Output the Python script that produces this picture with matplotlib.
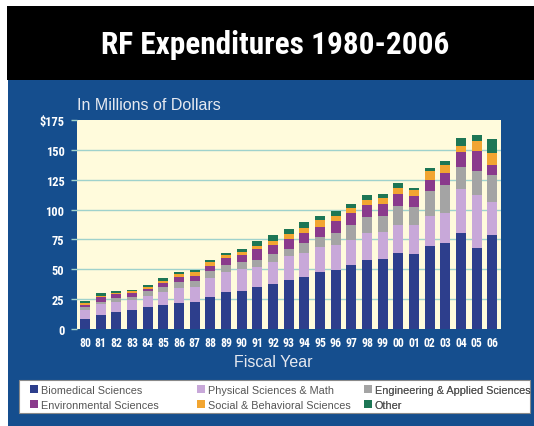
import matplotlib
matplotlib.use("Agg")
import matplotlib.pyplot as plt
from matplotlib import font_manager
from matplotlib.patches import Rectangle
import numpy as np

# Fiscal years (two-digit labels)
years = ["80", "81", "82", "83", "84", "85", "86", "87", "88", "89", "90", "91", "92",
         "93", "94", "95", "96", "97", "98", "99", "00", "01", "02", "03", "04", "05", "06"]

# Expenditures by field, in millions of dollars
biomedical = [8.4, 11.8, 14.0, 15.7, 18.3, 20.0, 21.6, 22.5, 27.2, 30.6, 31.5, 34.8, 37.9,
              41.3, 43.5, 47.5, 49.4, 53.9, 58.1, 58.4, 63.5, 63.2, 69.1, 71.6, 80.3, 67.7, 78.7]
physical = [7.6, 9.2, 9.0, 8.2, 9.7, 11.2, 12.4, 12.6, 15.5, 16.9, 18.5, 17.2, 18.6,
            19.7, 20.3, 21.3, 21.1, 20.8, 22.5, 22.8, 23.3, 23.9, 25.6, 25.9, 37.1, 44.9, 27.5]
engineering = [2.3, 2.0, 2.8, 3.3, 3.5, 3.6, 5.6, 5.3, 5.6, 6.2, 5.9, 6.1, 6.7,
               5.6, 7.8, 8.4, 10.1, 12.4, 13.5, 13.5, 16.3, 14.9, 20.7, 23.0, 18.0, 19.4, 22.7]
environmental = [1.9, 3.7, 3.4, 3.1, 1.9, 3.7, 3.9, 4.3, 4.8, 5.9, 6.1, 8.5, 7.0,
                 8.4, 9.0, 8.5, 10.1, 9.8, 9.8, 9.8, 10.1, 9.5, 9.6, 10.1, 12.6, 17.4, 8.7]
social = [1.4, 1.3, 0.8, 1.2, 1.4, 1.9, 2.5, 2.8, 3.1, 2.2, 2.3, 3.1, 3.7,
          4.2, 4.2, 5.3, 4.0, 4.8, 4.5, 4.8, 4.8, 4.8, 7.3, 6.8, 5.4, 8.2, 9.6]
other = [2.0, 2.0, 2.0, 1.1, 2.0, 2.0, 2.0, 1.9, 1.9, 2.0, 3.1, 4.2, 4.5,
         4.2, 4.5, 3.4, 3.9, 3.3, 3.4, 3.6, 4.2, 2.0, 2.3, 3.6, 6.2, 4.8, 12.1]

series_names = ["Biomedical Sciences", "Physical Sciences & Math", "Engineering & Applied Sciences",
                "Environmental Sciences", "Social & Behavioral Sciences", "Other"]
series_values = [biomedical, physical, engineering, environmental, social, other]
series_colors = ["#2d3e8c", "#c8a8d9", "#a4a4a4", "#8a3a8c", "#f2a531", "#1d7655"]

y_ticks = [0, 25, 50, 75, 100, 125, 150, 175]
y_tick_labels = ["0", "25", "50", "75", "100", "125", "150", "$175"]

PANEL_BLUE = "#154e8e"
CREAM = "#fffbdc"
GRID = "#9fd2cc"

# Prefer a narrow face for the headline and numerals when one is installed
installed = {f.name for f in font_manager.fontManager.ttflist}
narrow = next((n for n in ["Liberation Sans Narrow", "DejaVu Sans Condensed",
                           "Roboto Condensed", "Open Sans Condensed", "Liberation Sans"]
               if n in installed), "DejaVu Sans")
is_narrow = narrow != "Liberation Sans" and narrow != "DejaVu Sans"
cond = [narrow, "DejaVu Sans"]
plain = ["Liberation Sans", "DejaVu Sans"]

fig = plt.figure(figsize=(5.34, 4.27), dpi=100)
fig.patch.set_facecolor("white")
W, H = 534.0, 427.0

# Background layer: blue panel, black title band, legend box
bg = fig.add_axes([0, 0, 1, 1], zorder=-5)
bg.set_xlim(0, W)
bg.set_ylim(H, 0)
bg.axis("off")
bg.add_patch(Rectangle((8, 81), W - 8, H - 81, facecolor=PANEL_BLUE, edgecolor="none"))
bg.add_patch(Rectangle((7, 7), W - 7, 74, facecolor="black", edgecolor="none"))
bg.add_patch(Rectangle((19, 381), 511, 33, facecolor="white", edgecolor="#8a8a8a", lw=0.8))
bg.text(275, 45, "RF Expenditures 1980-2006", color="white",
        fontsize=22.5 if is_narrow else 19, fontweight="bold", family=cond,
        ha="center", va="center")
bg.text(77, 106, "In Millions of Dollars", color="#e6e9f0",
        fontsize=11.5, family=plain, ha="left", va="center")
bg.text(273, 363, "Fiscal Year", color="#e6e9f0",
        fontsize=11.5, family=plain, ha="center", va="center")

ax = fig.add_axes([77 / W, (H - 330) / H, 424 / W, 209 / H], zorder=2)
ax.set_facecolor(CREAM)

x = np.arange(len(years))
bottom = np.zeros(len(years))
for name, vals, col in zip(series_names, series_values, series_colors):
    v = np.array(vals)
    ax.bar(x, v, width=0.64, bottom=bottom, color=col, label=name, zorder=3)
    bottom += v

ax.set_xlim(-0.52, len(years) - 0.45)
ax.set_ylim(0, 175)
ax.set_yticks(y_ticks)
tick_size_y = 9 if is_narrow else 8
tick_size_x = 8.5 if is_narrow else 7
ax.set_yticklabels(y_tick_labels, family=cond, fontweight="bold", fontsize=tick_size_y, color="white")
ax.set_xticks(x)
ax.set_xticklabels(years, family=cond, fontweight="bold", fontsize=tick_size_x, color="white")
ax.tick_params(axis="y", length=4, width=1, color=GRID, pad=5)
ax.tick_params(axis="x", length=0, pad=5)
for yv in y_ticks[1:-1]:
    ax.axhline(yv, color=GRID, lw=1, zorder=1)
for s in ax.spines.values():
    s.set_visible(False)

# Legend: three columns at fixed horizontal positions inside the white box
handles, labels = ax.get_legend_handles_labels()
columns = [(0, 3), (1, 4), (2, 5)]
col_left = [30, 197, 364]
for left, idx in zip(col_left, columns):
    leg = bg.legend([handles[i] for i in idx], [labels[i] for i in idx],
                    loc="upper left", bbox_to_anchor=(left / W, 1 - 386 / H),
                    bbox_transform=fig.transFigure, frameon=False,
                    prop={"family": plain, "size": 7.8},
                    handlelength=0.7, handleheight=0.7, handletextpad=0.3,
                    labelspacing=0.42, borderpad=0.0, borderaxespad=0)
    for t in leg.get_texts():
        t.set_color("#555555")
    bg.add_artist(leg)

fig.savefig("out.png", dpi=100, facecolor=fig.get_facecolor())
